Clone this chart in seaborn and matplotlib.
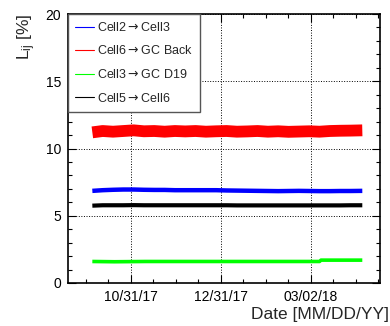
import matplotlib
matplotlib.use("Agg")
import matplotlib.pyplot as plt
import matplotlib.dates as mdates
from matplotlib.ticker import MultipleLocator, AutoMinorLocator, FixedLocator
from matplotlib.lines import Line2D
import seaborn as sns
import pandas as pd

sns.set_theme(style="ticks")
plt.rcParams["font.family"] = ["Liberation Sans", "DejaVu Sans"]

# ---- data ----
weekly_dates = ["2017-10-05", "2017-10-12", "2017-10-19", "2017-10-26", "2017-11-02",
                "2017-11-09", "2017-11-16", "2017-11-23", "2017-11-30", "2017-12-07",
                "2017-12-14", "2017-12-21", "2017-12-28", "2018-01-04", "2018-01-11",
                "2018-01-18", "2018-01-25", "2018-02-01", "2018-02-08", "2018-02-15",
                "2018-02-22", "2018-03-01", "2018-03-08", "2018-03-15", "2018-03-22",
                "2018-03-29", "2018-04-06"]
cell2_cell3 = [6.85, 6.90, 6.93, 6.95, 6.95, 6.93, 6.92, 6.92, 6.90, 6.90,
               6.90, 6.90, 6.90, 6.88, 6.87, 6.86, 6.85, 6.84, 6.83, 6.84,
               6.85, 6.84, 6.83, 6.83, 6.84, 6.84, 6.85]
cell6_gcback = [11.20, 11.30, 11.25, 11.30, 11.35, 11.28, 11.30, 11.25, 11.30, 11.27,
                11.30, 11.25, 11.28, 11.30, 11.25, 11.27, 11.30, 11.25, 11.28, 11.24,
                11.26, 11.28, 11.25, 11.30, 11.32, 11.33, 11.35]
cell5_cell6 = [5.75, 5.78, 5.78, 5.78, 5.79, 5.78, 5.78, 5.78, 5.78, 5.78,
               5.78, 5.78, 5.78, 5.78, 5.77, 5.77, 5.77, 5.77, 5.77, 5.77,
               5.77, 5.77, 5.77, 5.77, 5.77, 5.78, 5.78]
green_dates = ["2017-10-05", "2017-10-20", "2017-11-10", "2017-12-15", "2018-01-20",
               "2018-02-20", "2018-03-08", "2018-03-09", "2018-04-06"]
cell3_gcd19 = [1.60, 1.58, 1.60, 1.60, 1.60, 1.60, 1.60, 1.70, 1.70]

labels = [r"Cell2$\rightarrow$Cell3", r"Cell6$\rightarrow$GC Back",
          r"Cell3$\rightarrow$GC D19", r"Cell5$\rightarrow$Cell6"]
colors = ["#0000ff", "#ff0000", "#00ff00", "#000000"]
tick_dates = ["2017-10-31", "2017-12-31", "2018-03-02"]

fig = plt.figure(figsize=(3.9, 3.26), dpi=100)
ax = fig.add_axes([68/390, 1-283/326, (380-68)/390, (283-14)/326])

dfw = pd.DataFrame({"date": pd.to_datetime(weekly_dates), "c23": cell2_cell3,
                    "c6gc": cell6_gcback, "c56": cell5_cell6})
dfg = pd.DataFrame({"date": pd.to_datetime(green_dates), "g": cell3_gcd19})

sns.lineplot(data=dfw, x="date", y="c6gc", color=colors[1], lw=8.5, ax=ax,
             solid_capstyle="butt")
sns.lineplot(data=dfw, x="date", y="c23", color=colors[0], lw=3.2, ax=ax,
             solid_capstyle="butt")
sns.lineplot(data=dfw, x="date", y="c56", color=colors[3], lw=3.0, ax=ax,
             solid_capstyle="butt")
sns.lineplot(data=dfg, x="date", y="g", color=colors[2], lw=2.6, ax=ax,
             solid_capstyle="butt")

ax.set_xlim(pd.Timestamp("2017-09-18 12:00"), pd.Timestamp("2018-04-18"))
ax.set_ylim(0, 20)
ax.xaxis.set_major_locator(FixedLocator(mdates.date2num(pd.to_datetime(tick_dates))))
ax.xaxis.set_major_formatter(mdates.DateFormatter("%m/%d/%y"))
ax.xaxis.set_minor_locator(AutoMinorLocator(4))
ax.yaxis.set_major_locator(MultipleLocator(5))
ax.yaxis.set_minor_locator(MultipleLocator(1))

ax.tick_params(which="both", direction="in", top=True, right=True, labelsize=10,
               color="black", labelcolor="black", width=0.8)
ax.tick_params(which="major", length=6, pad=5)
ax.tick_params(which="minor", length=3)
ax.grid(True, which="major", ls=":", color="black", lw=0.7)
for s in ax.spines.values():
    s.set_color("black")
    s.set_linewidth(1.2)

ax.set_xlabel("Date [MM/DD/YY]", fontsize=12.5, loc="right")
ax.xaxis.set_label_coords(1.03, -0.09)
ax.set_ylabel(r"$\mathregular{L_{ij}}$ [%]", fontsize=12.5, loc="top")
ax.yaxis.set_label_coords(-0.096, 1.0)

handles = [Line2D([], [], color=c, lw=0.8) for c in colors]
leg = ax.legend(handles, labels, loc="upper left", bbox_to_anchor=(0, 1), fontsize=9,
                frameon=True, fancybox=False, edgecolor="#555555", framealpha=1,
                handlelength=1.5, handletextpad=0.3, labelspacing=0.85,
                borderpad=0.55, borderaxespad=0)
leg.get_frame().set_linewidth(1.0)

fig.savefig("out.png", dpi=100)
